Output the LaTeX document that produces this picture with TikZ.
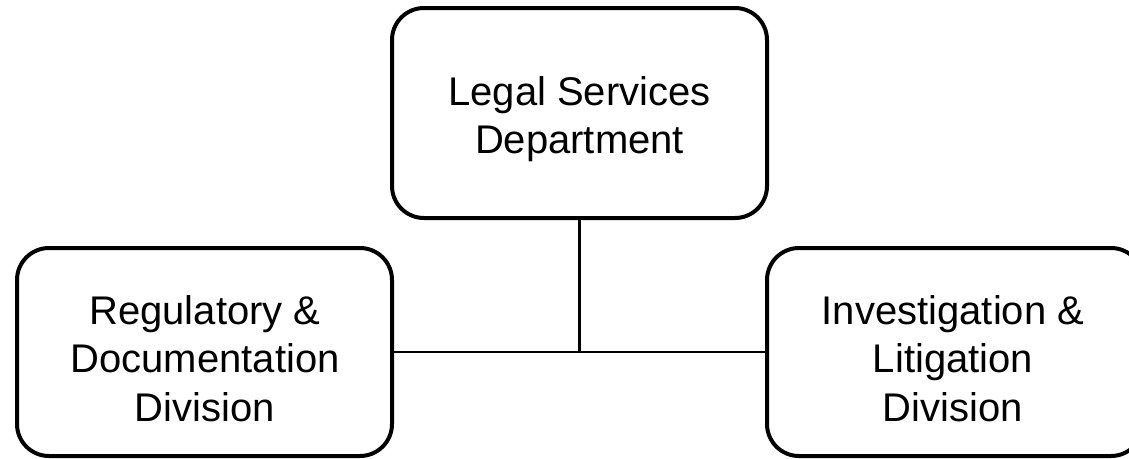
\documentclass[tikz,border=0pt]{standalone}
\usepackage{fontspec}
\setmainfont{Liberation Sans}
\begin{document}
\begin{tikzpicture}[x=1pt,y=-1pt,
  unitbox/.style={draw=black, line width=4pt, rounded corners=32pt,
    rectangle, inner sep=0pt},
  unittext/.style={anchor=north, align=center, inner sep=0pt, text=black,
    font=\fontsize{40}{48.5}\selectfont},
  link/.style={draw=black, line width=2.5pt}]
  \useasboundingbox (0,0) rectangle (1129,458);
  % department and its two divisions
  \node[unitbox, minimum width=375pt, minimum height=210pt] (dept) at (579.5,113) {};
  \node[unitbox, minimum width=375pt, minimum height=208pt] (reg) at (204.5,352) {};
  \node[unitbox, minimum width=376pt, minimum height=208pt] (inv) at (955,352) {};
  % their titles
  \node[unittext, font=\fontsize{40}{48}\selectfont] (dept-title) at (579.5,76)
    {Legal Services\\Department};
  \node[unittext] (reg-title) at (205,295)
    {Regulatory \&\\Documentation\\Division};
  \node[unittext] (inv-title) at (953,295)
    {Investigation \&\\Litigation\\Division};
  % reporting lines
  \draw[link] (reg.east) -- (inv.west);
  \draw[link] (dept.south) -- (dept.south |- reg.east);
\end{tikzpicture}
\end{document}
